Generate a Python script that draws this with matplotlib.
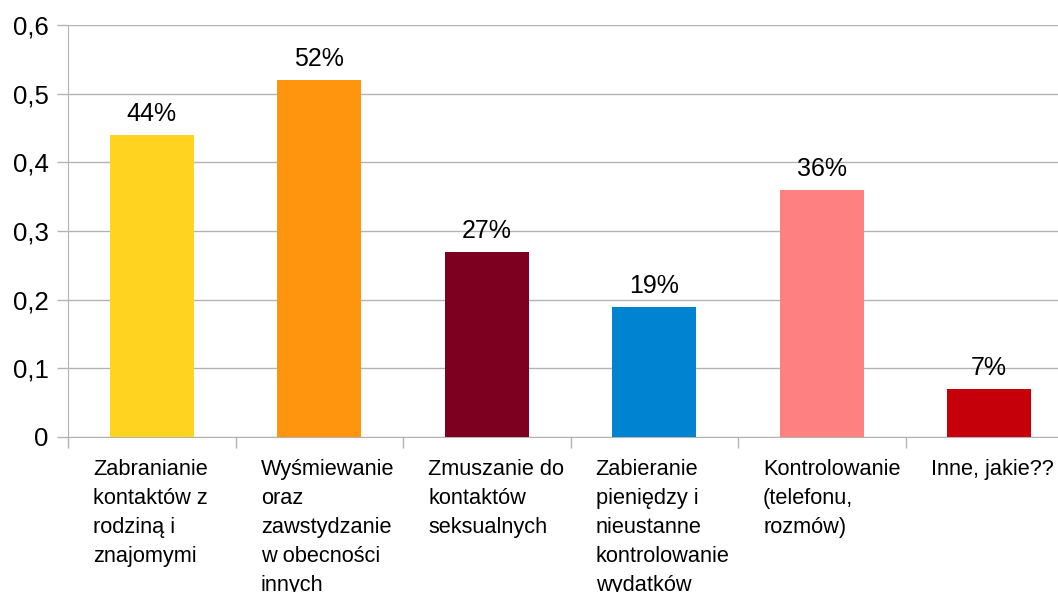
import matplotlib
matplotlib.use("Agg")
import matplotlib.pyplot as plt
from matplotlib.ticker import FuncFormatter

plt.rcParams['font.family'] = ['Liberation Sans', 'DejaVu Sans']

labels = ["Zabranianie\nkontaktów z\nrodziną i\nznajomymi",
          "Wyśmiewanie\noraz\nzawstydzanie\nw obecności\ninnych",
          "Zmuszanie do\nkontaktów\nseksualnych",
          "Zabieranie\npieniędzy i\nnieustanne\nkontrolowanie\nwydatków",
          "Kontrolowanie\n(telefonu,\nrozmów)",
          "Inne, jakie??"]
values = [0.44, 0.52, 0.27, 0.19, 0.36, 0.07]
colors = ["#ffd320", "#ff950e", "#7e0021", "#0084d1", "#ff8080", "#c5000b"]

W, H = 1058, 592
fig = plt.figure(figsize=(W / 100, H / 100), dpi=100)
# plot area runs past the right edge of the picture (as in the original)
ax = fig.add_axes([68 / W, (H - 437) / H, 1005 / W, 412 / H])

xs = list(range(len(values)))
ax.bar(xs, values, width=0.5, color=colors, zorder=3)
ax.set_xlim(-0.5, len(values) - 0.5)
ax.set_ylim(0, 0.6)

ax.set_yticks([0, 0.1, 0.2, 0.3, 0.4, 0.5, 0.6])
ax.yaxis.set_major_formatter(FuncFormatter(lambda v, p: "0" if v == 0 else ("%.1f" % v).replace(".", ",")))
ax.grid(axis='y', color='#b3b3b3', linewidth=1, zorder=0)
ax.tick_params(axis='y', length=8, width=1, color='#b3b3b3', labelsize=18.5, pad=6)

ax.set_xticks([x - 0.5 for x in xs] + [len(values) - 0.5])
ax.set_xticklabels([])
ax.tick_params(axis='x', length=8, width=1, color='#b3b3b3')

for s in ['top', 'right']:
    ax.spines[s].set_visible(False)
for s in ['left', 'bottom']:
    ax.spines[s].set_color('#b3b3b3')

for x, v in zip(xs, values):
    ax.annotate("%d%%" % round(v * 100), (x, v), xytext=(0, 14), textcoords='offset pixels',
                ha='center', va='baseline', fontsize=18)

trans = ax.get_xaxis_transform()
for x, lab in zip(xs, labels):
    ax.annotate(lab, (x - 0.35, 0), xycoords=trans, xytext=(0, -22), textcoords='offset pixels',
                ha='left', va='top', multialignment='left', fontsize=15.7, linespacing=1.5)

fig.savefig("out.png", dpi=100)
